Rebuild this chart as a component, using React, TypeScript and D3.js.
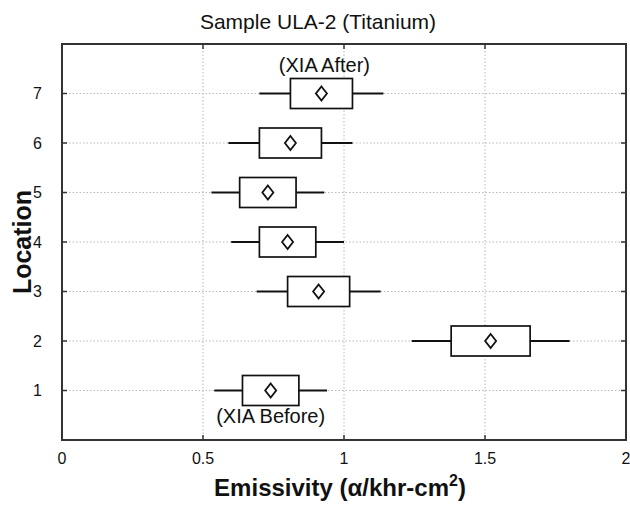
import React from "react";
import * as d3 from "d3";

const locations = [1, 2, 3, 4, 5, 6, 7];
const whiskerLow = [0.54, 1.24, 0.69, 0.6, 0.53, 0.59, 0.7];
const boxLow = [0.64, 1.38, 0.8, 0.7, 0.63, 0.7, 0.81];
const means = [0.74, 1.52, 0.91, 0.8, 0.73, 0.81, 0.92];
const boxHigh = [0.84, 1.66, 1.02, 0.9, 0.83, 0.92, 1.03];
const whiskerHigh = [0.94, 1.8, 1.13, 1.0, 0.93, 1.03, 1.14];
const xTicks = [0, 0.5, 1, 1.5, 2];
const xTickLabels = ["0", "0.5", "1", "1.5", "2"];
const yTicks = [1, 2, 3, 4, 5, 6, 7];
const title = "Sample ULA-2 (Titanium)";
const annotations = [
  { loc: 7, text: "(XIA After)", pos: "above" },
  { loc: 1, text: "(XIA Before)", pos: "below" },
];

const W = 630;
const H = 506;
const FONT = "'Liberation Sans', Arial, Helvetica, sans-serif";

export default function App() {
  const left = 62, right = 626, top = 44, bottom = 440;
  const x = d3.scaleLinear().domain([0, 2]).range([left, right]);
  const y = d3.scaleLinear().domain([0, 8]).range([bottom, top]);
  const boxH = 30;
  const dW = 5.5, dH = 7;
  const tickLen = 5;

  const rows = locations.map((loc, i) => ({
    loc,
    wl: whiskerLow[i],
    bl: boxLow[i],
    m: means[i],
    bh: boxHigh[i],
    wh: whiskerHigh[i],
  }));

  return (
    <div style={{ position: "absolute", left: 0, top: 0 }}>
      <svg width={W} height={H} style={{ display: "block", background: "#fff" }} fontFamily={FONT}>
        <rect x={0} y={0} width={W} height={H} fill="#fff" />
        {/* grid */}
        {xTicks.slice(1, -1).map((t) => (
          <line key={"gx" + t} x1={x(t)} x2={x(t)} y1={top} y2={bottom} stroke="#b8b8b8" strokeWidth={1} strokeDasharray="1.5,2" />
        ))}
        {yTicks.map((t) => (
          <line key={"gy" + t} x1={left} x2={right} y1={y(t)} y2={y(t)} stroke="#b8b8b8" strokeWidth={1} strokeDasharray="1.5,2" />
        ))}
        {/* boxes */}
        {rows.map((r) => {
          const cy = y(r.loc);
          const cx = x(r.m);
          return (
            <g key={"b" + r.loc}>
              <line x1={x(r.wl)} x2={x(r.bl)} y1={cy} y2={cy} stroke="#111" strokeWidth={2} />
              <line x1={x(r.bh)} x2={x(r.wh)} y1={cy} y2={cy} stroke="#111" strokeWidth={2} />
              <rect x={x(r.bl)} y={cy - boxH / 2} width={x(r.bh) - x(r.bl)} height={boxH} fill="#fff" stroke="#111" strokeWidth={1.7} />
              <path d={`M${cx},${cy - dH}L${cx + dW},${cy}L${cx},${cy + dH}L${cx - dW},${cy}Z`} fill="#fff" stroke="#111" strokeWidth={1.8} />
            </g>
          );
        })}
        {/* annotations */}
        {annotations.map((a) => {
          const i = locations.indexOf(a.loc);
          const cx = x(means[i]) + (a.pos === "above" ? 3 : 0);
          const cy = y(a.loc);
          const ty = a.pos === "above" ? cy - boxH / 2 - 7 : cy + boxH / 2 + 17;
          return (
            <text key={a.text} x={cx} y={ty} textAnchor="middle" fontSize={20} fill="#111">
              {a.text}
            </text>
          );
        })}
        {/* frame */}
        <rect x={left} y={top} width={right - left} height={bottom - top} fill="none" stroke="#333" strokeWidth={2} />
        {/* ticks */}
        {xTicks.map((t) => (
          <g key={"tx" + t}>
            <line x1={x(t)} x2={x(t)} y1={bottom} y2={bottom - tickLen} stroke="#333" strokeWidth={1.5} />
            <line x1={x(t)} x2={x(t)} y1={top} y2={top + tickLen} stroke="#333" strokeWidth={1.5} />
          </g>
        ))}
        {yTicks.map((t) => (
          <g key={"ty" + t}>
            <line x1={left} x2={left + tickLen} y1={y(t)} y2={y(t)} stroke="#333" strokeWidth={1.5} />
            <line x1={right} x2={right - tickLen} y1={y(t)} y2={y(t)} stroke="#333" strokeWidth={1.5} />
          </g>
        ))}
        {/* tick labels */}
        {xTicks.map((t, i) => (
          <text key={"lx" + t} x={x(t)} y={bottom + 24} textAnchor="middle" fontSize={16} fill="#111">
            {xTickLabels[i]}
          </text>
        ))}
        {yTicks.map((t) => (
          <text key={"ly" + t} x={left - 20} y={y(t) + 5.5} textAnchor="end" fontSize={16} fill="#111">
            {t}
          </text>
        ))}
        {/* title */}
        <text x={318} y={29} textAnchor="middle" fontSize={21} fill="#111">
          {title}
        </text>
        {/* axis labels */}
        <text x={340} y={496} textAnchor="middle" fontSize={24} fontWeight="bold" fill="#111">
          <tspan>Emissivity (</tspan>
          <tspan>α</tspan>
          <tspan>/khr-cm</tspan>
          <tspan fontSize={16} dy={-10}>2</tspan>
          <tspan dy={10}>)</tspan>
        </text>
        <text transform={`translate(31,${(top + bottom) / 2}) rotate(-90)`} textAnchor="middle" fontSize={25} fontWeight="bold" fill="#111">
          Location
        </text>
      </svg>
    </div>
  );
}
